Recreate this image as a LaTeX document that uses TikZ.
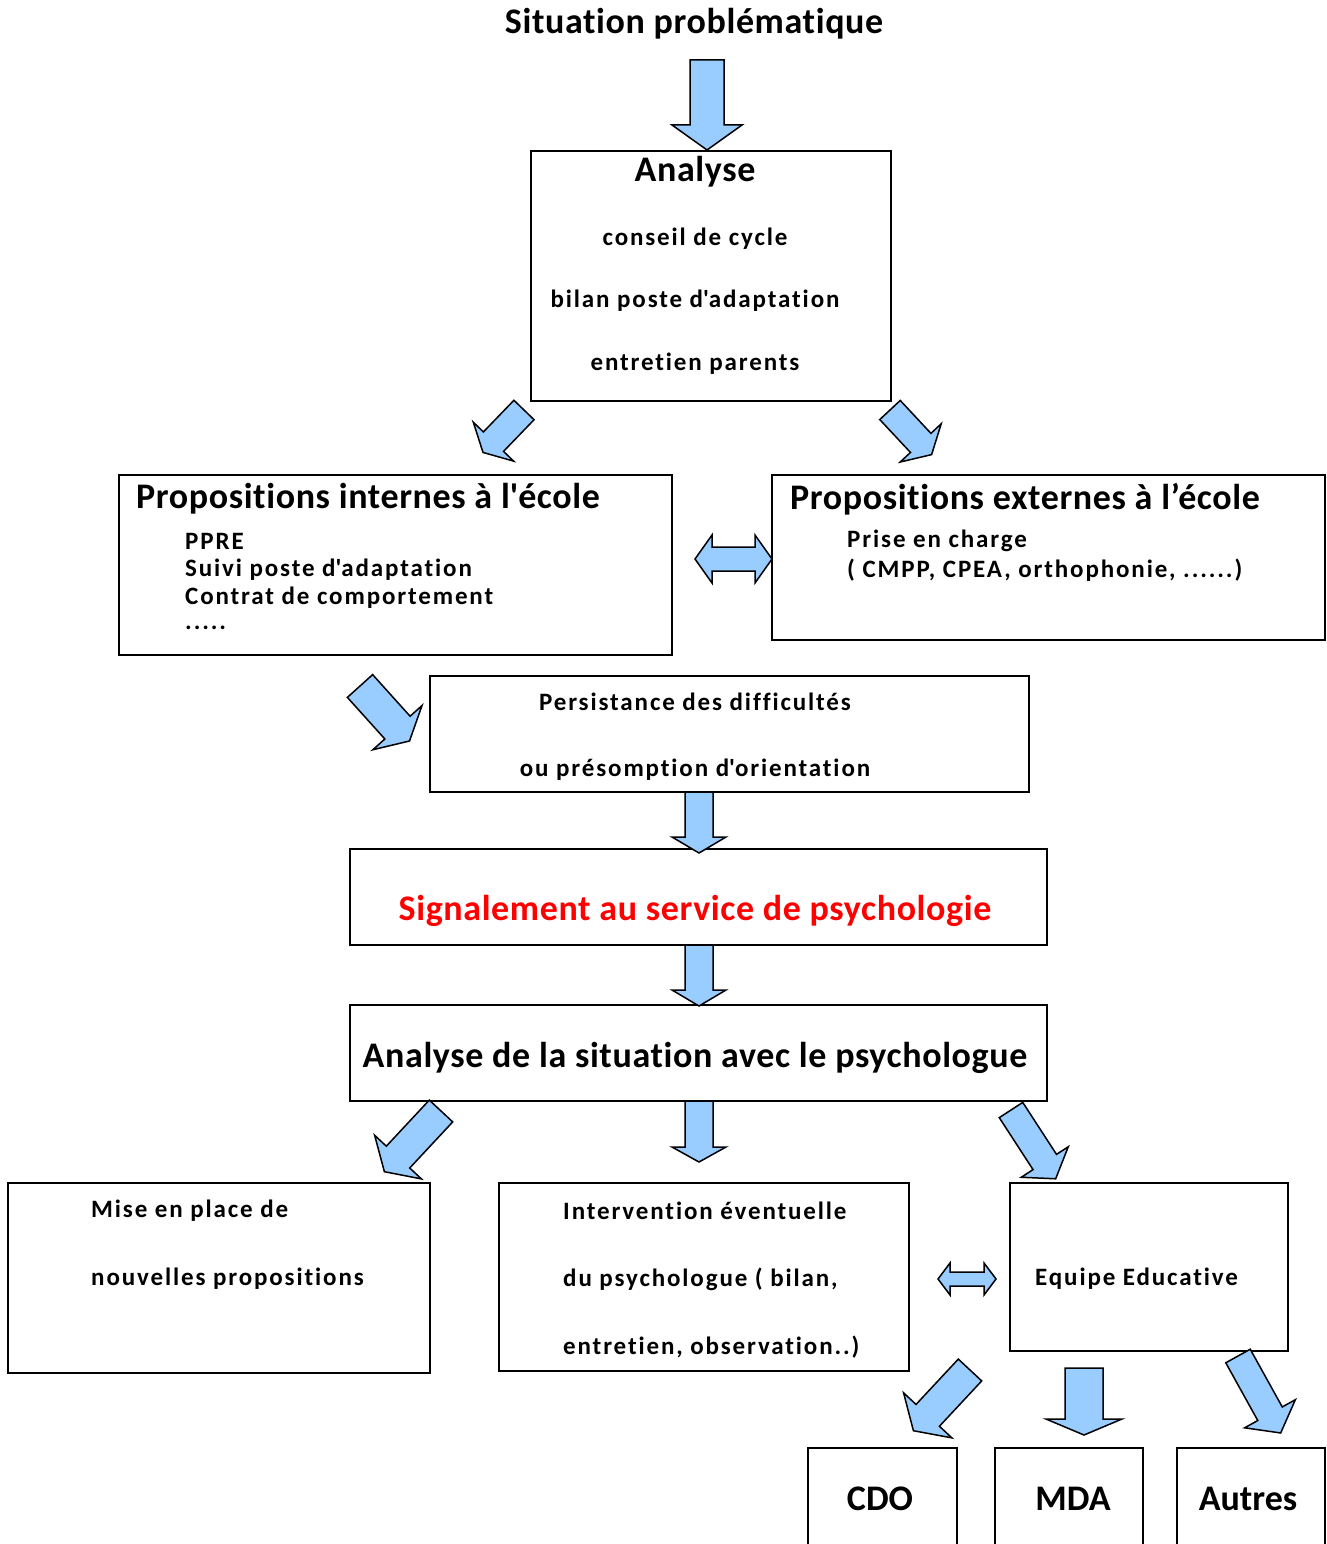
\documentclass[tikz,border=0pt]{standalone}
\usepackage{fontspec}
\setmainfont{Carlito}[Ligatures=NoCommon]
\newfontfamily\smallfam{Carlito}[LetterSpace=7.5, Ligatures=NoCommon]
\newfontfamily\bigfam{Carlito}[LetterSpace=1.7, Ligatures=NoCommon]
\usetikzlibrary{calc}

\definecolor{arrowblue}{HTML}{99CCFF}
\definecolor{signalred}{HTML}{FF0000}

\tikzset{
  box/.style={draw, line width=1.6pt, inner sep=0pt, outer sep=0pt},
  blockarrow/.style={draw, line width=1.5pt, fill=arrowblue, line join=miter},
  small/.style={font=\smallfam\bfseries\fontsize{25}{29}\selectfont, inner sep=0pt},
  big/.style={font=\bigfam\bfseries\fontsize{36}{40}\selectfont, inner sep=0pt},
  huge/.style={font=\bfseries\fontsize{36}{40}\selectfont, inner sep=0pt}
}

% fat arrow: tail, angle, length, half body, half head, head length
\newcommand{\fatarrow}[6]{%
  \draw[blockarrow, shift={(#1)}, rotate=#2]
    (0,#4) -- ({#3-#6},#4) -- ({#3-#6},#5) -- (#3,0) -- ({#3-#6},-#5)
    -- ({#3-#6},-#4) -- (0,-#4) -- cycle;
}
% double fat arrow: centre, length, half body, half head, head length
\newcommand{\dblarrow}[5]{%
  \draw[blockarrow, shift={(#1)}]
    ({-#2/2},0) -- ({-#2/2+#5},#4) -- ({-#2/2+#5},#3) -- ({#2/2-#5},#3)
    -- ({#2/2-#5},#4) -- ({#2/2},0) -- ({#2/2-#5},-#4) -- ({#2/2-#5},-#3)
    -- ({-#2/2+#5},-#3) -- ({-#2/2+#5},-#4) -- cycle;
}
\newcommand{\apos}{\textquotesingle}

\begin{document}
\begin{tikzpicture}[x=1pt, y=-1pt]
  \useasboundingbox (0,0) rectangle (1327,1544);

  % boxes
  \node[box, minimum width=360, minimum height=250] (analyse) at (711,276) {};
  \node[box, minimum width=553, minimum height=180] (internes) at (395.5,565) {};
  \node[box, minimum width=553, minimum height=165] (externes) at (1048.5,557.5) {};
  \node[box, minimum width=599, minimum height=116] (persist) at (729.5,734) {};
  \node[box, minimum width=697, minimum height=96] (signal) at (698.5,897) {};
  \node[box, minimum width=697, minimum height=96] (psy) at (698.5,1053) {};
  \node[box, minimum width=422, minimum height=190] (miseplace) at (219,1278) {};
  \node[box, minimum width=410, minimum height=188] (interv) at (704,1277) {};
  \node[box, minimum width=278, minimum height=168] (equipe) at (1149,1267) {};
  \node[box, minimum width=149, minimum height=152] (cdo) at (882.5,1524) {};
  \node[box, minimum width=148, minimum height=152] (mda) at (1069,1524) {};
  \node[box, minimum width=148, minimum height=152] (autres) at (1251,1524) {};

  % texts
  \node[big] (titre) at (694,24) {Situation problématique};
  \node[big] (analyseT) at (695,172) {Analyse};
  \node[small] (conseil) at (695,239) {conseil de cycle};
  \node[small] (bilan) at (695,301) {bilan poste d\apos adaptation};
  \node[small] (entretien) at (695,364) {entretien parents};

  \node[big, anchor=west] (internesT) at (136,499) {Propositions internes à l\apos école};
  \node[small, anchor=west] (ppre) at (185,541) {PPRE};
  \node[small, anchor=west] (suivi) at (185,570) {Suivi poste d\apos adaptation};
  \node[small, anchor=west] (contrat) at (185,598) {Contrat de comportement};
  \node[small, anchor=west] (points) at (185,628) {.....};

  \node[big, anchor=west] (externesT) at (790,499) {Propositions externes à l’école};
  \node[small, anchor=west] (prise) at (847,541) {Prise en charge};
  \node[small, anchor=west] (cmpp) at (847,570) {( CMPP, CPEA, orthophonie, ......)};

  \node[small] (persistT) at (695,702) {Persistance des difficultés};
  \node[small] (presomp) at (695,770) {ou présomption d\apos orientation};

  \node[big, text=signalred] (signalT) at (695,911) {Signalement au service de psychologie};
  \node[big] (psyT) at (695,1058) {Analyse de la situation avec le psychologue};

  \node[small, anchor=west] (mise1) at (91,1211) {Mise en place de};
  \node[small, anchor=west] (mise2) at (91,1279) {nouvelles propositions};
  \node[small, anchor=west] (interv1) at (563,1211) {Intervention éventuelle};
  \node[small, anchor=west] (interv2) at (563,1279) {du psychologue ( bilan,};
  \node[small, anchor=west] (interv3) at (563,1347) {entretien, observation..)};
  \node[small, anchor=west] (equipeT) at (1035,1279) {Equipe Educative};

  \node[huge] (cdoT) at (880,1499) {CDO};
  \node[huge] (mdaT) at (1073,1499) {MDA};
  \node[huge] (autresT) at (1248,1499) {Autres};

  % block arrows
  \fatarrow{707,60}{-90}{90}{17}{35}{25}
  \fatarrow{524,410}{-134}{59}{14}{28}{15}
  \fatarrow{890,410}{-47}{61}{14}{28}{16}
  \dblarrow{733.5,559}{77}{12}{24}{17}
  \fatarrow{360,686}{-48}{74}{17}{33}{18}
  \fatarrow{699,792}{-90}{61}{14}{27}{16}
  \fatarrow{699,945}{-90}{61}{14}{27}{16}
  \fatarrow{441,1111}{-133}{83}{16}{32}{20}
  \fatarrow{699,1101}{-90}{61}{14}{27}{15}
  \fatarrow{1011,1110}{-57}{82}{14}{28}{20}
  \dblarrow{967,1279}{58}{7}{16}{12}
  \fatarrow{970,1370}{-133}{83}{16}{33}{21}
  \fatarrow{1084,1368}{-90}{67}{19}{38}{16}
  \fatarrow{1238,1356}{-61}{88}{14}{29}{22}
\end{tikzpicture}
\end{document}
